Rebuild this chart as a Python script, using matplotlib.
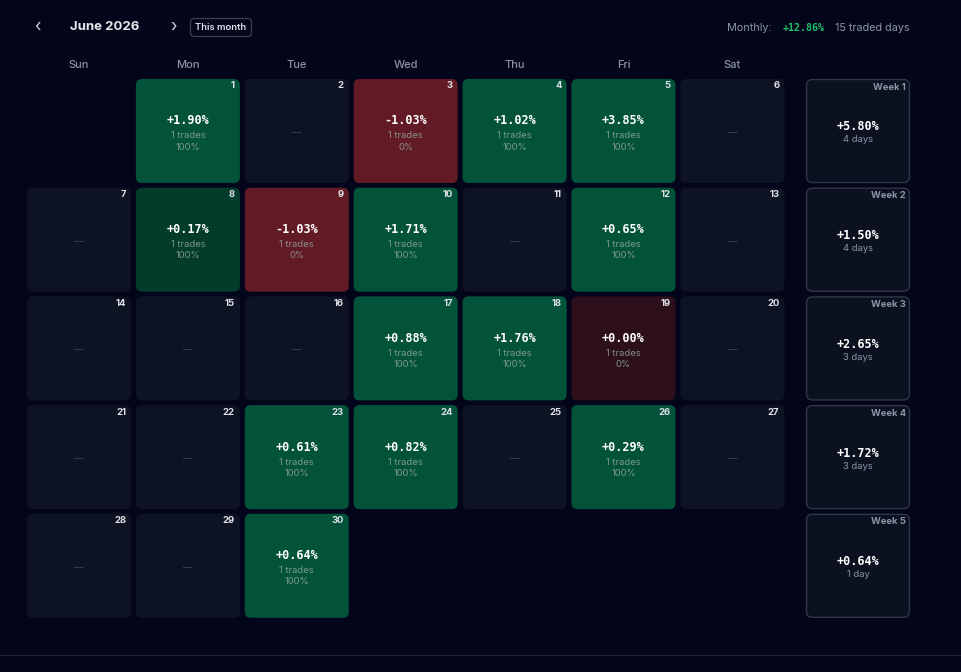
import matplotlib
matplotlib.use("Agg")
import matplotlib.pyplot as plt
from matplotlib.patches import FancyBboxPatch

plt.rcParams["font.family"] = ["Inter", "DejaVu Sans"]

# -------------------------------
# DATA
# -------------------------------
month_label = "June 2026"
weekdays = ["Sun", "Mon", "Tue", "Wed", "Thu", "Fri", "Sat"]
first_weekday = 1          # June 1 2026 is a Monday
n_days = 30

# day -> (pnl %, trades, win rate %)
trade_days = [1, 3, 4, 5, 8, 9, 10, 12, 17, 18, 19, 23, 24, 26, 30]
trade_pnl = [1.90, -1.03, 1.02, 3.85, 0.17, -1.03, 1.71, 0.65, 0.88, 1.76, 0.00, 0.61, 0.82, 0.29, 0.64]
trade_count = [1] * 15
trade_win = [100, 0, 100, 100, 100, 0, 100, 100, 100, 100, 0, 100, 100, 100, 100]

week_labels = ["Week 1", "Week 2", "Week 3", "Week 4", "Week 5"]
week_pnl = [5.80, 1.50, 2.65, 1.72, 0.64]
week_days = [4, 4, 3, 3, 1]

monthly_pnl = 12.86
traded_days = 15

# -------------------------------
# STYLE
# -------------------------------
BG = "#03061a"
EMPTY = "#0e1324"
GREEN = "#03533a"
GREEN_DIM = "#033c2b"
RED = "#621a25"
RED_DIM = "#2c0f1b"
GRAY = "#8b93a5"
SUB = "#8fa39a"
MONO = "DejaVu Sans Mono"

col_x0, col_step, cell_w = 27, 108.9, 104
row_y0, row_step, cell_h = 79, 108.7, 104
week_x = 806

fig = plt.figure(figsize=(9.61, 6.72), dpi=100, facecolor=BG)
ax = fig.add_axes([0, 0, 1, 1])
ax.set_xlim(0, 961)
ax.set_ylim(672, 0)
ax.axis("off")
ax.set_facecolor(BG)


def box(x, y, w, h, fc, ec="none", lw=0, r=6):
    ax.add_patch(FancyBboxPatch((x, y), w, h,
                                boxstyle=f"round,pad=0,rounding_size={r}",
                                fc=fc, ec=ec, lw=lw))


# header
ax.text(37, 26, "\u2039", color="#d0d4dc", fontsize=12, ha="center", va="center")
ax.text(105, 27, month_label, color="#e6e8ee", fontsize=9.5, fontweight="bold",
        ha="center", va="center")
ax.text(174, 26, "\u203a", color="#d0d4dc", fontsize=12, ha="center", va="center")
box(190.5, 18.5, 61, 18, BG, ec="#3a4154", lw=0.9, r=4)
ax.text(221, 27, "This month", color="#dde0e6", fontsize=6.8, fontweight="semibold",
        ha="center", va="center")

ax.text(910, 28, f"{traded_days} traded days", color=GRAY, fontsize=7.8,
        ha="right", va="center")
ax.text(825, 28, f"+{monthly_pnl:.2f}%", color="#1fc06a", fontsize=7.2,
        fontweight="bold", family=MONO, ha="right", va="center")
ax.text(772, 28, "Monthly:", color=GRAY, fontsize=7.8, ha="right", va="center")

for i, wd in enumerate(weekdays):
    ax.text(col_x0 + i * col_step + cell_w / 2, 65, wd, color=GRAY, fontsize=8,
            fontweight="medium", ha="center", va="center")

# day cells
lookup = {d: (p, c, w) for d, p, c, w in zip(trade_days, trade_pnl, trade_count, trade_win)}
for day in range(1, n_days + 1):
    idx = first_weekday + day - 1
    r, c = divmod(idx, 7)
    x = col_x0 + c * col_step
    y = row_y0 + r * row_step
    cx = x + cell_w / 2
    if day in lookup:
        p, cnt, win = lookup[day]
        if abs(p) >= 0.25:
            fc = GREEN if p > 0 else RED
        else:
            fc = GREEN_DIM if win > 0 else RED_DIM
        box(x, y, cell_w, cell_h, fc)
        ax.text(cx, y + 42, f"{p:+.2f}%", color="white", fontsize=8.5,
                fontweight="bold", family=MONO, ha="center", va="center")
        ax.text(cx, y + 57, f"{cnt} trades", color=SUB, fontsize=6.8,
                ha="center", va="center", alpha=0.85)
        ax.text(cx, y + 68, f"{win}%", color=SUB, fontsize=6.8,
                ha="center", va="center", alpha=0.85)
    else:
        box(x, y, cell_w, cell_h, EMPTY)
        ax.text(cx, y + 54, "\u2014", color="#3a4152", fontsize=7,
                ha="center", va="center")
    ax.text(x + cell_w - 5, y + 7, str(day), color="#dfe2e8", fontsize=6.8,
            fontweight="bold", ha="right", va="center")

# week summary
for r, (lab, p, nd) in enumerate(zip(week_labels, week_pnl, week_days)):
    y = row_y0 + r * row_step
    cx = week_x + cell_w / 2
    box(week_x + 0.5, y + 0.5, cell_w - 1, cell_h - 1, "#0c1120", ec="#2f3648", lw=1)
    ax.text(week_x + cell_w - 4, y + 8, lab, color=GRAY, fontsize=6.8,
            fontweight="bold", ha="right", va="center")
    ax.text(cx, y + 48, f"{p:+.2f}%", color="white", fontsize=8.5,
            fontweight="bold", family=MONO, ha="center", va="center")
    ax.text(cx, y + 61, f"{nd} day" + ("s" if nd != 1 else ""), color=GRAY,
            fontsize=6.8, ha="center", va="center")

ax.plot([0, 961], [655, 655], color="#1d2334", lw=1)

fig.savefig("out.png", dpi=100, facecolor=BG)
